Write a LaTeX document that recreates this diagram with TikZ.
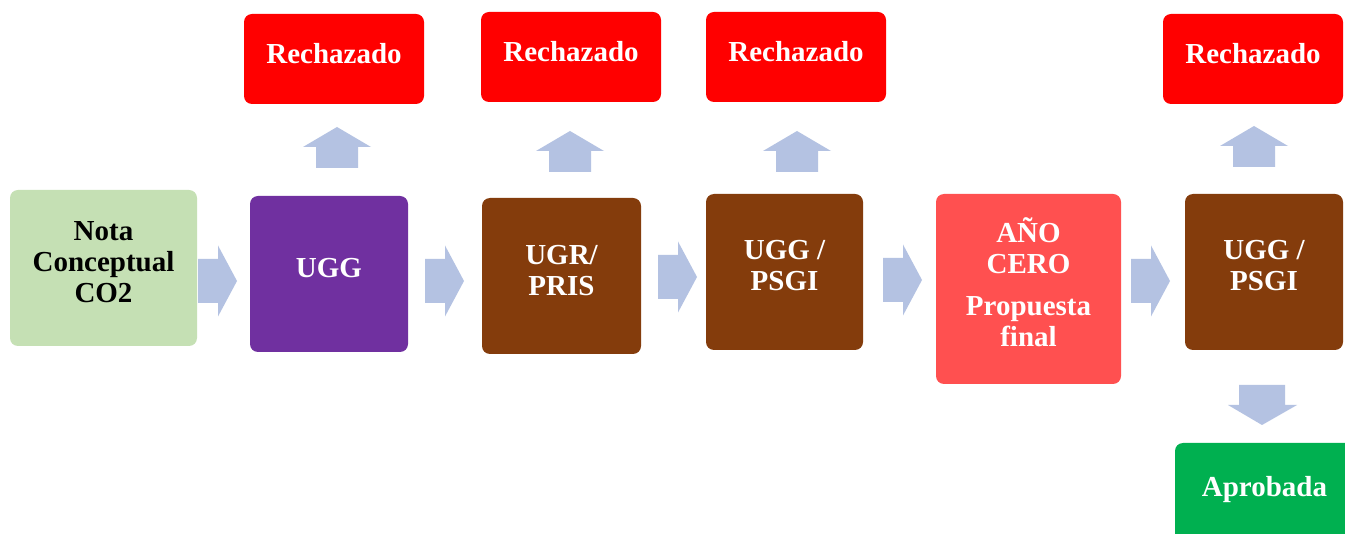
\documentclass[tikz,border=0pt]{standalone}
\usepackage{fontspec}
\setmainfont{Liberation Serif}
\definecolor{notac}{HTML}{C5E0B4}
\definecolor{purp}{HTML}{7030A0}
\definecolor{brownc}{HTML}{843C0C}
\definecolor{salmon}{HTML}{FF5050}
\definecolor{redc}{HTML}{FF0000}
\definecolor{greenc}{HTML}{00B050}
\definecolor{arrowc}{HTML}{B4C2E2}
\newcommand\rightblk[2]{\fill[arrowc] (#1,#2-22) -- (#1+20,#2-22) -- (#1+20,#2-35.5) -- (#1+39,#2) -- (#1+20,#2+35.5) -- (#1+20,#2+22) -- (#1,#2+22) -- cycle;}
\newcommand\upblk[2]{\fill[arrowc] (#1,#2) -- (#1+34,#2+20) -- (#1+21,#2+20) -- (#1+21,#2+41) -- (#1-21,#2+41) -- (#1-21,#2+20) -- (#1-34,#2+20) -- cycle;}
\begin{document}
\begin{tikzpicture}[x=1pt,y=-1pt,
  box/.style={rounded corners=8pt, draw=none, inner sep=0pt},
  txt/.style={font=\fontsize{29}{31}\selectfont\bfseries, text=white, align=center, inner sep=0pt},
  rech/.style={box, fill=redc, minimum width=180pt, minimum height=90pt}]
\clip (0,0) rectangle (1345,534);
\fill[white] (0,0) rectangle (1345,534);
% main row
\node[box, fill=notac, minimum width=187pt, minimum height=156pt,
  label={[txt, text=black, yshift=6pt]center:Nota\\Conceptual\\CO2}] (nota) at (103.5,268) {};
\node[box, fill=purp, minimum width=158pt, minimum height=156pt,
  label={[txt, yshift=6pt]center:UGG}] (ugg) at (329,274) {};
\node[box, fill=brownc, minimum width=159pt, minimum height=156pt,
  label={[txt, yshift=5pt]center:UGR/\\PRIS}] (ugr) at (561.5,276) {};
\node[box, fill=brownc, minimum width=157pt, minimum height=156pt,
  label={[txt, yshift=6pt]center:UGG /\\PSGI}] (psgia) at (784.5,272) {};
\node[box, fill=salmon, minimum width=185pt, minimum height=190pt,
  label={[txt, yshift=7pt]center:AÑO\\CERO\\[11pt]Propuesta\\final}] (ano) at (1028.5,289) {};
\node[box, fill=brownc, minimum width=158pt, minimum height=156pt,
  label={[txt, yshift=6pt]center:UGG /\\PSGI}] (psgib) at (1264,272) {};
% rejected boxes
\node[rech, label={[txt, yshift=5pt]center:Rechazado}] (r1) at (334,59) {};
\node[rech, label={[txt, yshift=5pt]center:Rechazado}] (r2) at (571,57) {};
\node[rech, label={[txt, yshift=5pt]center:Rechazado}] (r3) at (796,57) {};
\node[rech, label={[txt, yshift=5pt]center:Rechazado}] (r4) at (1253,59) {};
% approved
\node[box, fill=greenc, minimum width=179pt, minimum height=104pt,
  label={[txt, yshift=5pt]center:Aprobada}] (aprob) at (1264.5,495) {};
% right arrows
\rightblk{198}{281}
\rightblk{425}{281}
\rightblk{658}{277}
\rightblk{883}{280}
\rightblk{1131}{281}
% up arrows
\upblk{337}{127}
\upblk{570}{131}
\upblk{797}{131}
\upblk{1254}{126}
% down arrow
\fill[arrowc] (1239,385) -- (1285,385) -- (1285,405) -- (1297,405) -- (1262,425) -- (1228,405) -- (1239,405) -- cycle;
\end{tikzpicture}
\end{document}
